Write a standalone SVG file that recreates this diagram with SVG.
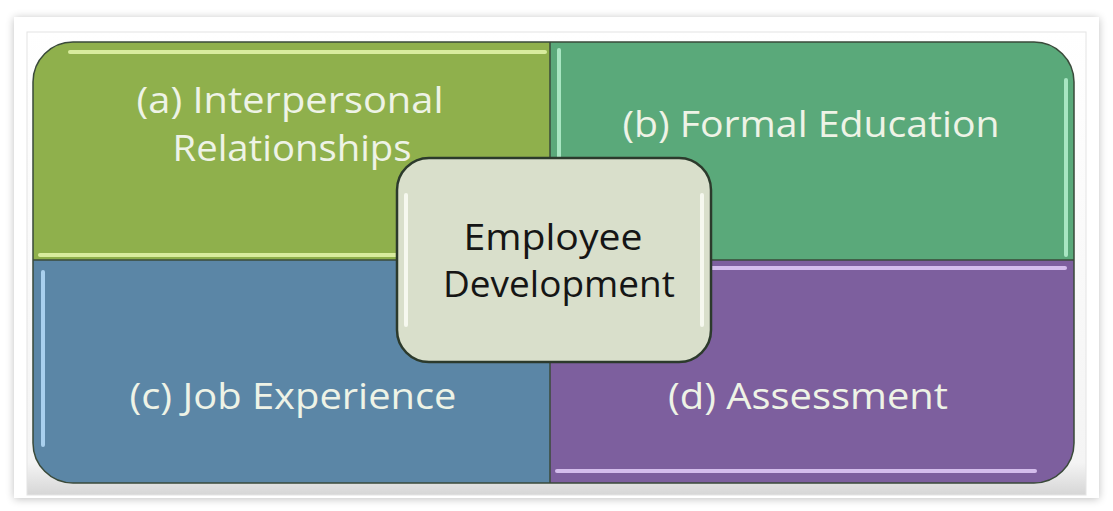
<svg xmlns="http://www.w3.org/2000/svg" width="1113" height="511" viewBox="0 0 1113 511">
<defs>
<filter id="sh" x="-5%" y="-5%" width="110%" height="115%"><feGaussianBlur in="SourceAlpha" stdDeviation="4"/><feOffset dx="0" dy="1"/><feComponentTransfer><feFuncA type="linear" slope="0.25"/></feComponentTransfer><feMerge><feMergeNode/><feMergeNode in="SourceGraphic"/></feMerge></filter>
<linearGradient id="bev" x1="0" y1="0" x2="0" y2="1"><stop offset="0" stop-color="#ffffff"/><stop offset="0.93" stop-color="#f4f4f4"/><stop offset="1" stop-color="#d6d6d6"/></linearGradient>
<clipPath id="cl"><rect x="33" y="42" width="1041" height="441" rx="40"/></clipPath>
</defs>
<style>
.q{stroke:none}
.hl{stroke-width:4;stroke-linecap:round;fill:none}
.lbl{font-family:"Open Sans","Liberation Sans",sans-serif;font-size:36px;fill:#eef3e6;text-anchor:middle}
.ctr{font-family:"Open Sans","Liberation Sans",sans-serif;font-size:36px;fill:#151515;text-anchor:middle}
</style>
<rect width="1113" height="511" fill="#ffffff"/>
<g id="frame" filter="url(#sh)">
<rect x="14" y="17" width="1085" height="481" fill="#ffffff"/>
<rect x="27" y="32" width="1059" height="463" fill="url(#bev)" stroke="#e4e4e4" stroke-width="1"/>
</g>
<g clip-path="url(#cl)">
<g id="node-a">
<rect class="q" x="33" y="42" width="517" height="218" fill="#8fb04c"/>
<line class="hl" x1="70" y1="52" x2="545" y2="52" stroke="#d8ec9e"/>
<line class="hl" x1="40" y1="255" x2="545" y2="255" stroke="#d8ec9e"/>
<text class="lbl" x="290" y="113" textLength="307" lengthAdjust="spacingAndGlyphs">(a) Interpersonal</text>
<text class="lbl" x="292" y="161" textLength="239" lengthAdjust="spacingAndGlyphs">Relationships</text>
</g>
<g id="node-b">
<rect class="q" x="550" y="42" width="524" height="218" fill="#5aa97a"/>
<line class="hl" x1="559" y1="50" x2="559" y2="255" stroke="#a8e6c2"/>
<line class="hl" x1="1066" y1="80" x2="1066" y2="255" stroke="#a8e6c2"/>
<text class="lbl" x="811" y="137" textLength="377" lengthAdjust="spacingAndGlyphs">(b) Formal Education</text>
</g>
<g id="node-c">
<rect class="q" x="33" y="260" width="517" height="223" fill="#5b86a6"/>
<line class="hl" x1="43" y1="272" x2="43" y2="445" stroke="#a9d0ee"/>
<text class="lbl" x="293" y="409" textLength="327" lengthAdjust="spacingAndGlyphs">(c) Job Experience</text>
</g>
<g id="node-d">
<rect class="q" x="550" y="260" width="524" height="223" fill="#7d5f9e"/>
<line class="hl" x1="557" y1="268" x2="1065" y2="268" stroke="#d4bdec"/>
<line class="hl" x1="557" y1="471" x2="1035" y2="471" stroke="#d4bdec"/>
<text class="lbl" x="808" y="409" textLength="280" lengthAdjust="spacingAndGlyphs">(d) Assessment</text>
</g>
</g>
<g id="connectors" fill="none" stroke="#3a4a3a" stroke-width="1.5">
<rect x="33" y="42" width="1041" height="441" rx="40"/>
<line x1="550" y1="42" x2="550" y2="483"/>
<line x1="33" y1="260" x2="1074" y2="260"/>
</g>
<g id="node-center">
<rect x="397" y="158" width="314" height="204" rx="32" fill="#d9dfcb" stroke="#2c3a2c" stroke-width="2.5"/>
<path d="M 406 195 L 406 325" stroke="#f6f8ef" stroke-width="4" stroke-linecap="round" fill="none"/>
<path d="M 702 195 L 702 325" stroke="#f6f8ef" stroke-width="4" stroke-linecap="round" fill="none"/>
<text class="ctr" x="553" y="250" textLength="179" lengthAdjust="spacingAndGlyphs">Employee</text>
<text class="ctr" x="559" y="297" textLength="232" lengthAdjust="spacingAndGlyphs">Development</text>
</g>
</svg>
